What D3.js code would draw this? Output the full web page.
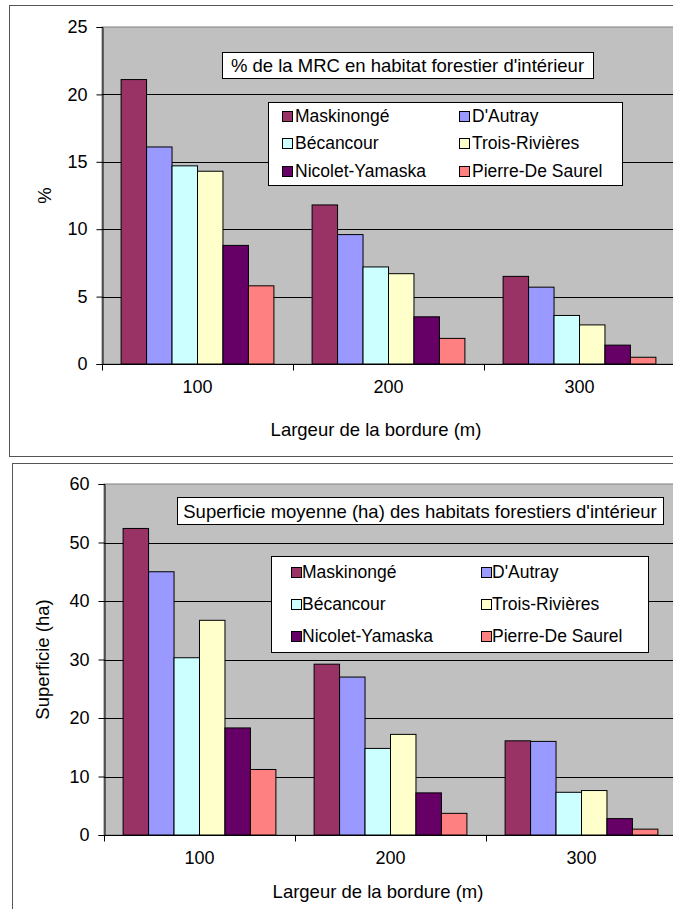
<!DOCTYPE html>
<html>
<head>
<meta charset="utf-8">
<script src="https://cdn.jsdelivr.net/npm/d3@7/dist/d3.min.js"></script>
<style>
  html, body { margin: 0; padding: 0; background: #fff; }
  svg { display: block; font-family: "Liberation Sans", Arial, sans-serif; }
</style>
</head>
<body>
<svg id="chart" width="673" height="909"></svg>
<script>
// Bordure (m) categories shared by both charts
const categories = ["100", "200", "300"];
const seriesNames = ["Maskinongé", "D'Autray", "Bécancour", "Trois-Rivières", "Nicolet-Yamaska", "Pierre-De Saurel"];
const seriesColors = ["#993366", "#9999FF", "#CCFFFF", "#FFFFCC", "#660066", "#FF8080"];

// % de la MRC en habitat forestier d'intérieur (one array per MRC, by bordure)
const pctMaskinonge = [21.1, 11.8, 6.5];
const pctDAutray = [16.1, 9.6, 5.7];
const pctBecancour = [14.7, 7.2, 3.6];
const pctTroisRivieres = [14.3, 6.7, 2.9];
const pctNicolet = [8.8, 3.5, 1.4];
const pctPierre = [5.8, 1.9, 0.5];
const pctTicks = [0, 5, 10, 15, 20, 25];

// Superficie moyenne (ha) des habitats forestiers d'intérieur
const haMaskinonge = [52.4, 29.2, 16.1];
const haDAutray = [45.0, 27.0, 16.0];
const haBecancour = [30.3, 14.8, 7.3];
const haTroisRivieres = [36.7, 17.2, 7.6];
const haNicolet = [18.3, 7.2, 2.8];
const haPierre = [11.2, 3.7, 1.0];
const haTicks = [0, 10, 20, 30, 40, 50, 60];

const svg = d3.select("#chart");

function drawChart(cfg) {
  const g = svg.append("g");

  // chart frame
  g.append("rect")
    .attr("x", cfg.frame.x).attr("y", cfg.frame.y)
    .attr("width", cfg.frame.w).attr("height", cfg.frame.h)
    .attr("fill", "#fff").attr("stroke", "#555").attr("stroke-width", 1);

  const p = cfg.plot;
  const y = d3.scaleLinear().domain([0, d3.max(cfg.ticks)]).range([p.bottom, p.top]);
  const x0 = d3.scaleBand().domain(categories).range([p.left, p.right]).padding(0);
  const x1 = d3.scaleBand().domain(seriesNames)
    .range([x0.bandwidth() * 0.1, x0.bandwidth() * 0.9]).padding(0);

  // plot area
  g.append("rect")
    .attr("x", p.left).attr("y", p.top)
    .attr("width", p.right - p.left + 20).attr("height", p.bottom - p.top)
    .attr("fill", "#C0C0C0").attr("stroke", "#808080").attr("stroke-width", 1);

  // horizontal gridlines
  g.append("g").selectAll("line")
    .data(cfg.ticks.filter(t => t > 0 && t < d3.max(cfg.ticks)))
    .join("line")
    .attr("x1", p.left).attr("x2", 673)
    .attr("y1", d => Math.round(y(d)) + 0.5).attr("y2", d => Math.round(y(d)) + 0.5)
    .attr("stroke", "#000").attr("stroke-width", 1);

  // bars
  const rows = categories.map((c, i) => ({ cat: c, vals: cfg.series.map((s, j) => ({ name: seriesNames[j], v: s[i] })) }));
  g.append("g").selectAll("g")
    .data(rows)
    .join("g")
    .attr("transform", d => `translate(${x0(d.cat)},0)`)
    .selectAll("rect")
    .data(d => d.vals)
    .join("rect")
    .attr("x", d => x1(d.name))
    .attr("y", d => y(d.v))
    .attr("width", x1.bandwidth())
    .attr("height", d => y(0) - y(d.v))
    .attr("fill", (d, j) => seriesColors[j])
    .attr("stroke", "#000").attr("stroke-width", 1);

  // value axis
  const yAxis = g.append("g")
    .attr("transform", `translate(${p.left + 0.5},0)`)
    .call(d3.axisLeft(y).tickValues(cfg.ticks).tickSize(6).tickPadding(9).tickFormat(d3.format("d")));
  yAxis.select(".domain").attr("stroke", "#000");
  yAxis.selectAll(".tick line").attr("stroke", "#000");
  yAxis.selectAll("text").attr("font-size", 18).attr("fill", "#000")
    .attr("font-family", "Liberation Sans, Arial, sans-serif");

  // category axis: labels centred in each band, tick marks on band boundaries
  const xAxis = g.append("g")
    .attr("transform", `translate(0,${Math.round(p.bottom) + 0.5})`)
    .call(d3.axisBottom(x0).tickSize(0).tickPadding(16));
  xAxis.select(".domain").remove();
  xAxis.selectAll("text").attr("font-size", 18).attr("fill", "#000")
    .attr("font-family", "Liberation Sans, Arial, sans-serif");
  xAxis.append("line").attr("x1", p.left).attr("x2", 673).attr("y1", 0).attr("y2", 0).attr("stroke", "#000");
  const bounds = categories.map(c => x0(c)).concat([x0(categories[categories.length - 1]) + x0.bandwidth()]);
  xAxis.selectAll(".bound").data(bounds).join("line")
    .attr("class", "bound")
    .attr("x1", d => Math.round(d) + 0.5).attr("x2", d => Math.round(d) + 0.5)
    .attr("y1", 0).attr("y2", 6).attr("stroke", "#000");

  // axis titles
  g.append("text")
    .attr("x", cfg.xTitleX).attr("y", cfg.xTitleY).attr("dy", "0.35em")
    .attr("text-anchor", "middle").attr("font-size", 18.5)
    .text("Largeur de la bordure (m)");
  g.append("text")
    .attr("transform", `translate(${cfg.yTitleX},${(p.top + p.bottom) / 2}) rotate(-90)`)
    .attr("dy", "0.35em").attr("text-anchor", "middle").attr("font-size", 18.5)
    .text(cfg.yTitle);

  // title box
  const t = cfg.titleBox;
  g.append("rect").attr("x", t.x + 0.5).attr("y", t.y + 0.5).attr("width", t.w).attr("height", t.h)
    .attr("fill", "#fff").attr("stroke", "#000");
  g.append("text").attr("x", t.x + t.w / 2).attr("y", t.y + t.h / 2 + 1).attr("dy", "0.35em")
    .attr("text-anchor", "middle").attr("font-size", 18.5).text(cfg.title);

  // legend
  const L = cfg.legend;
  g.append("rect").attr("x", L.x + 0.5).attr("y", L.y + 0.5).attr("width", L.w).attr("height", L.h)
    .attr("fill", "#fff").attr("stroke", "#000");
  const items = g.append("g").selectAll("g").data(seriesNames).join("g")
    .attr("transform", (d, i) => `translate(${L.cols[i % 2]},${L.rows[Math.floor(i / 2)]})`);
  items.append("rect").attr("x", 0.5).attr("y", -4.5).attr("width", 10).attr("height", 10)
    .attr("fill", (d, i) => seriesColors[i]).attr("stroke", "#000");
  items.append("text").attr("x", L.textOffset).attr("y", 0).attr("dy", "0.35em")
    .attr("font-size", 17.5).text(d => d);
}

drawChart({
  frame: { x: 9.5, y: 5.5, w: 700, h: 451 },
  plot: { left: 102, right: 675, top: 27, bottom: 364 },
  ticks: pctTicks,
  series: [pctMaskinonge, pctDAutray, pctBecancour, pctTroisRivieres, pctNicolet, pctPierre],
  xTitleX: 376, xTitleY: 430,
  yTitleX: 45, yTitle: "%",
  titleBox: { x: 222, y: 52, w: 371, h: 26 },
  title: "% de la MRC en habitat forestier d'intérieur",
  legend: { x: 268, y: 102, w: 354, h: 83, rows: [116, 143, 171], cols: [282, 459], textOffset: 13 }
});

drawChart({
  frame: { x: 12.5, y: 463.5, w: 700, h: 500 },
  plot: { left: 104, right: 677, top: 484, bottom: 835 },
  ticks: haTicks,
  series: [haMaskinonge, haDAutray, haBecancour, haTroisRivieres, haNicolet, haPierre],
  xTitleX: 378, xTitleY: 892,
  yTitleX: 43, yTitle: "Superficie (ha)",
  titleBox: { x: 177, y: 497, w: 486, h: 27 },
  title: "Superficie moyenne (ha) des habitats forestiers d'intérieur",
  legend: { x: 271, y: 556, w: 377, h: 96, rows: [572, 604, 636], cols: [291, 481], textOffset: 11 }
});
</script>
</body>
</html>
